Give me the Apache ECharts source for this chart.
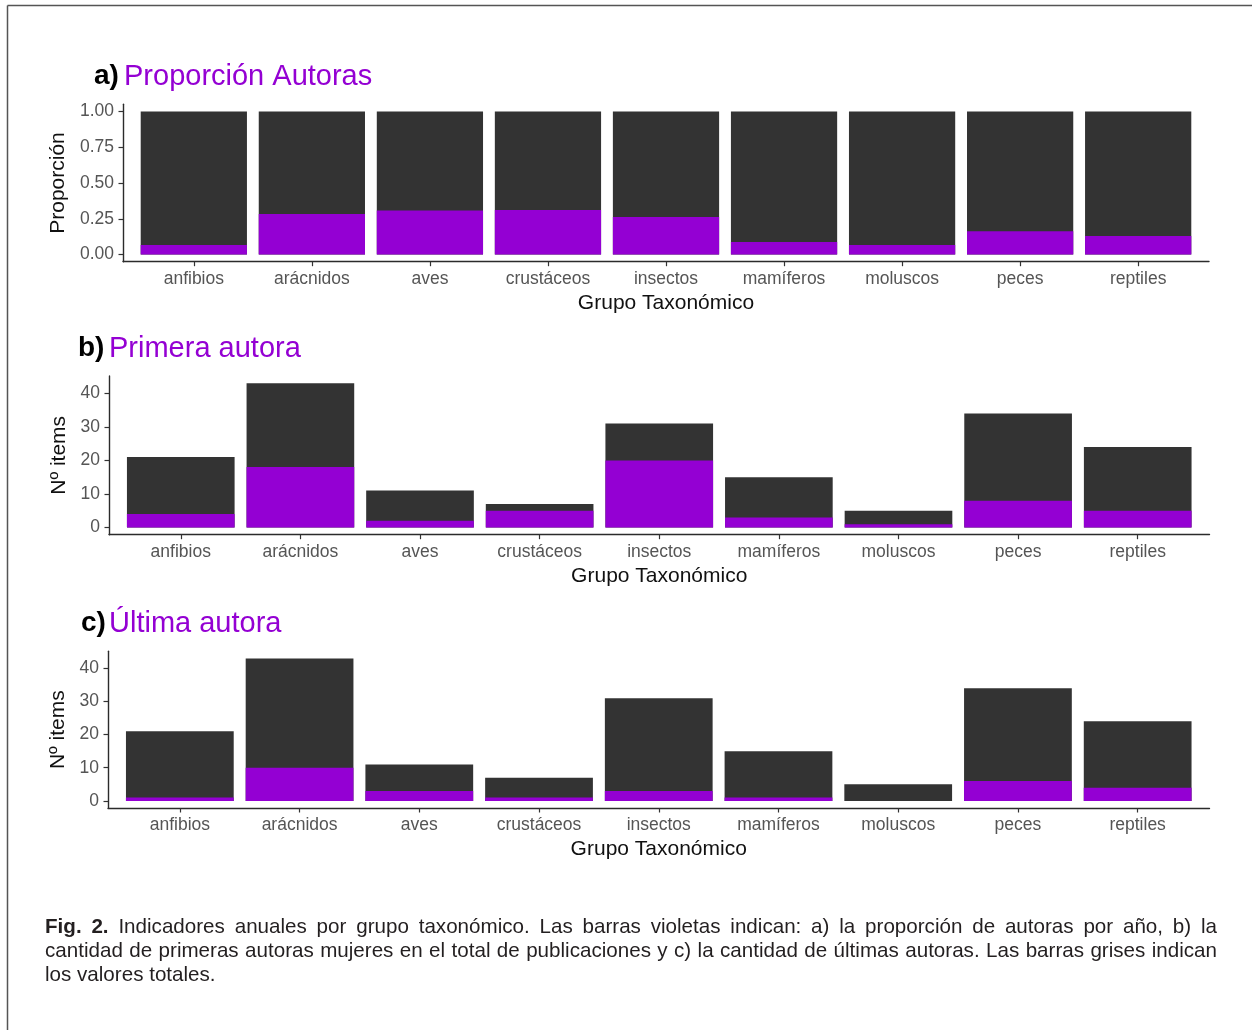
<!DOCTYPE html>
<html>
<head>
<meta charset="utf-8">
<script src="https://cdn.jsdelivr.net/npm/echarts@6/dist/echarts.min.js"></script>
<style>
  html, body { margin:0; padding:0; background:#fff; }
  #chart { position:absolute; left:0; top:0; width:1252px; height:1030px; }
  #caption { position:absolute; left:45px; top:913.5px; width:1172px; font-family:"Liberation Sans", Arial, sans-serif; font-size:20.6px; line-height:24px; color:#231f20; }
  #caption .j { text-align:justify; text-align-last:justify; white-space:nowrap; }
</style>
</head>
<body>
<div id="chart"></div>
<div id="caption">
  <div class="j"><b>Fig. 2.</b> Indicadores anuales por grupo taxonómico. Las barras violetas indican: a) la proporción de autoras por año, b) la</div>
  <div class="j">cantidad de primeras autoras mujeres en el total de publicaciones y c) la cantidad de últimas autoras. Las barras grises indican</div>
  <div>los valores totales.</div>
</div>
<script>
// ---- data ----
const categories = ['anfibios','arácnidos','aves','crustáceos','insectos','mamíferos','moluscos','peces','reptiles'];
const propTotal   = [1, 1, 1, 1, 1, 1, 1, 1, 1];
const propAutoras = [0.066, 0.283, 0.307, 0.311, 0.262, 0.088, 0.066, 0.163, 0.130];
const primeraTotal = [21, 43, 11, 7, 31, 15, 5, 34, 24];
const primeraAutora = [4, 18, 2, 5, 20, 3, 1, 8, 5];
const ultimaTotal = [21, 43, 11, 7, 31, 15, 5, 34, 24];
const ultimaAutora = [1, 10, 3, 1, 3, 1, 0, 6, 4];
const propTicks = [0, 0.25, 0.5, 0.75, 1];
const countTicks = [0, 10, 20, 30, 40];
const panelTitles = [['a)', 'Proporción Autoras'], ['b)', 'Primera autora'], ['c)', 'Última autora']];
const yNames = ['Proporción', 'Nº items', 'Nº items'];
const xName = 'Grupo Taxonómico';

// ---- style ----
const FONT = '"Liberation Sans", Arial, sans-serif';
const DARK = '#333333';
const VIOLET = '#9400D3';
const catPos = categories.map((c, i) => i + 1);
const pairs = arr => arr.map((v, i) => [i + 1, v]);

const grids = [
  { left: 123, top: 104.3, width: 1086, height: 157.4 },
  { left: 109, top: 376, width: 1100.5, height: 158.7 },
  { left: 108, top: 651.3, width: 1101.5, height: 156.7 }
];
const yRanges = [[-0.05, 1.05], [-2.15, 45.15], [-2.15, 45.15]];
const yTicks = [propTicks, countTicks, countTicks];
const yGaps = [50, 36, 36];
const titleTops = [62.3, 334.6, 609];
const titleX = [[94, 124], [78, 109], [81, 109]];

const axisLine = { show: true, onZero: false, lineStyle: { color: '#2b2b2b', width: 1.4 } };

const xAxis = grids.map((g, i) => ({
  type: 'value', gridIndex: i, min: 0.4, max: 9.6,
  axisLine: axisLine,
  axisTick: { show: true, customValues: catPos, length: 4.5, lineStyle: { color: '#333', width: 1.2 } },
  axisLabel: { customValues: catPos, formatter: v => categories[Math.round(v) - 1], margin: 8,
               fontFamily: FONT, fontSize: 17.5, color: '#555' },
  splitLine: { show: false },
  name: xName, nameLocation: 'middle', nameGap: 31,
  nameTextStyle: { fontFamily: FONT, fontSize: 21, color: '#111' }
}));

const yAxis = grids.map((g, i) => ({
  type: 'value', gridIndex: i, min: yRanges[i][0], max: yRanges[i][1],
  axisLine: axisLine,
  axisTick: { show: true, customValues: yTicks[i], length: 4.5, lineStyle: { color: '#333', width: 1.2 } },
  axisLabel: { customValues: yTicks[i], formatter: v => (i === 0 ? v.toFixed(2) : String(Math.round(v))),
               margin: 9, fontFamily: FONT, fontSize: 17.5, color: '#555' },
  splitLine: { show: false },
  name: yNames[i], nameLocation: 'middle', nameGap: yGaps[i],
  nameTextStyle: { fontFamily: FONT, fontSize: 21, color: '#111' }
}));

const totals = [propTotal, primeraTotal, ultimaTotal];
const females = [propAutoras, primeraAutora, ultimaAutora];
const series = [];
for (let i = 0; i < 3; i++) {
  series.push({ type: 'bar', xAxisIndex: i, yAxisIndex: i, data: pairs(totals[i]),
    barWidth: '90%', barGap: '-100%', itemStyle: { color: DARK }, silent: true });
  series.push({ type: 'bar', xAxisIndex: i, yAxisIndex: i, data: pairs(females[i]),
    barWidth: '90%', barGap: '-100%', itemStyle: { color: VIOLET }, silent: true });
}

const graphic = [
  { type: 'line', shape: { x1: 7.5, y1: 5.5, x2: 1252, y2: 5.5 }, style: { stroke: '#555', lineWidth: 1.5 } },
  { type: 'line', shape: { x1: 7.5, y1: 5.5, x2: 7.5, y2: 1030 }, style: { stroke: '#555', lineWidth: 1.5 } }
];
panelTitles.forEach((t, i) => {
  graphic.push({ type: 'text', left: titleX[i][0], top: titleTops[i],
    style: { text: t[0], font: 'bold 28px ' + FONT, fill: '#000' } });
  graphic.push({ type: 'text', left: titleX[i][1], top: titleTops[i],
    style: { text: t[1], font: '29px ' + FONT, fill: VIOLET } });
});

const chart = echarts.init(document.getElementById('chart'), null, { renderer: 'canvas' });
chart.setOption({
  animation: false,
  backgroundColor: '#fff',
  grid: grids.map(g => Object.assign({ containLabel: false }, g)),
  xAxis: xAxis,
  yAxis: yAxis,
  series: series,
  graphic: graphic
});
</script>
</body>
</html>
